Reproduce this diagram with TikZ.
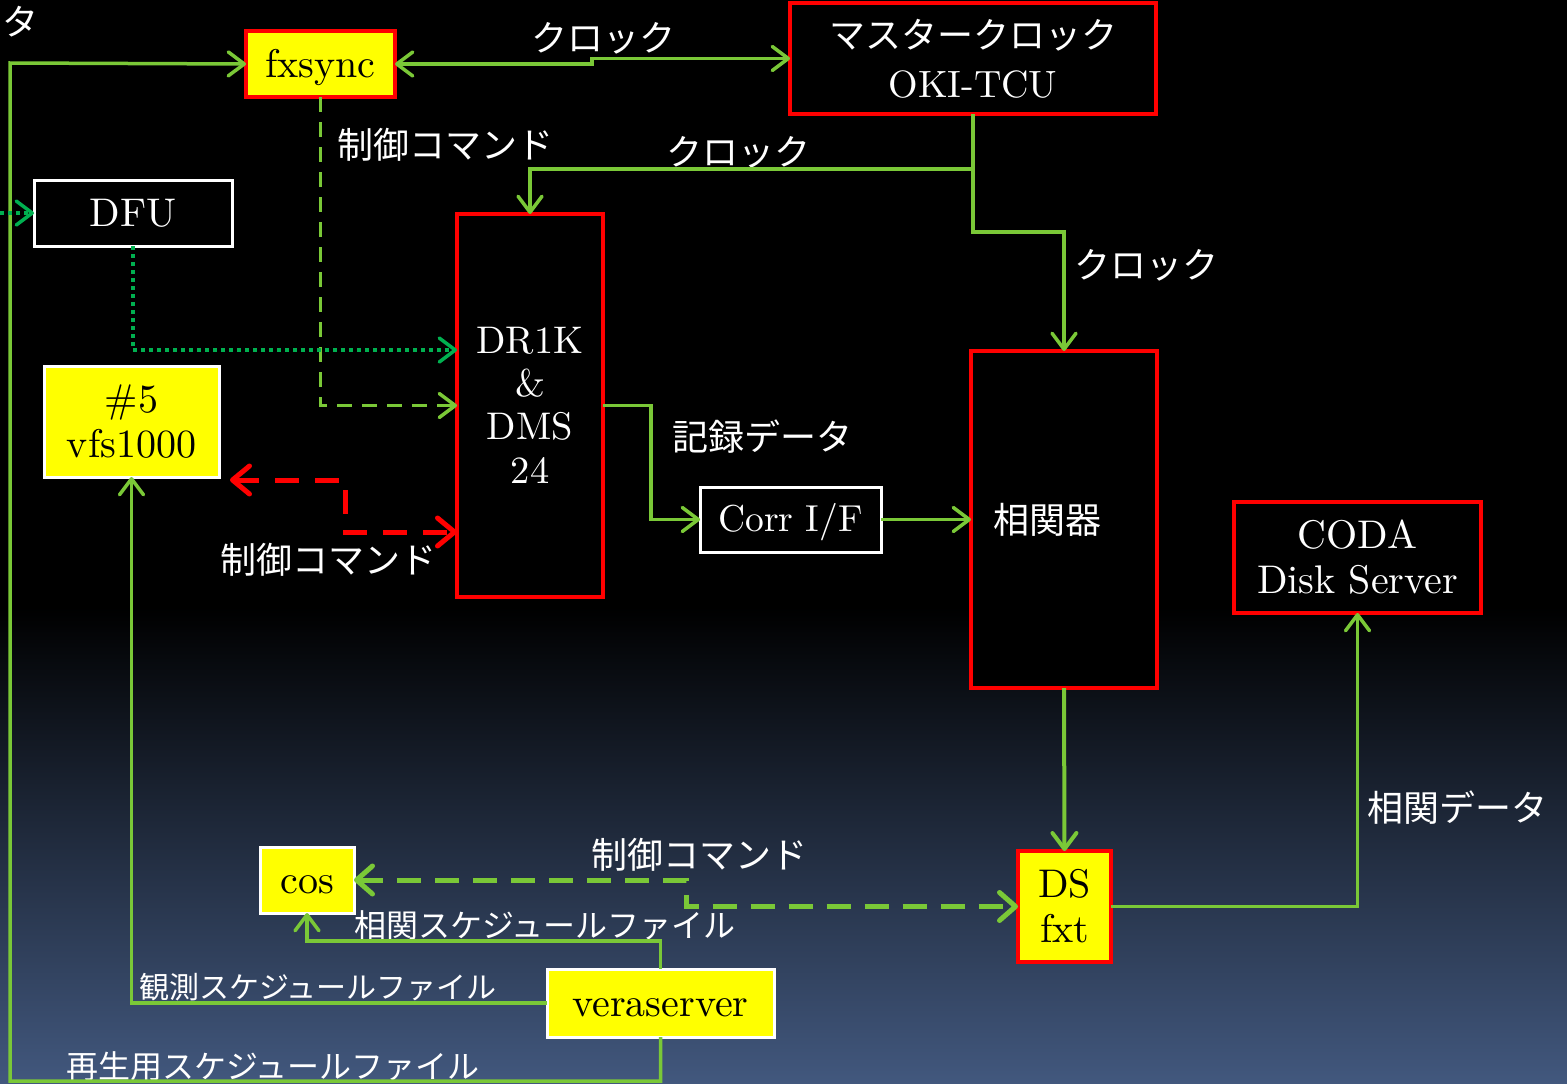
\documentclass[tikz,border=0pt]{standalone}
\usepackage{fontspec}
\newfontfamily\jp{Noto Sans CJK JP}
\usetikzlibrary{arrows.meta}
\definecolor{lg}{RGB}{122,200,55}
\definecolor{dg}{RGB}{0,176,80}
\definecolor{rd}{RGB}{255,0,0}
\definecolor{yl}{RGB}{255,255,0}
\definecolor{bgb}{RGB}{66,88,126}
\pgfdeclareverticalshading{bgshade}{100bp}{color(0bp)=(bgb); color(25bp)=(bgb); color(47bp)=(black); color(100bp)=(black)}
\newcommand{\lmt}[2][4]{\raisebox{-4pt}[\height][\depth]{\scalebox{#1}{\normalfont\fontsize{10}{11.25}\selectfont\begin{tabular}{@{}c@{}}#2\end{tabular}}}}
\begin{document}
\begin{tikzpicture}[x=1pt,y=-1pt,
  every node/.style={inner sep=0pt,outer sep=0pt},
  >={Straight Barb[length=16pt,width=24pt,round]},
  redbox/.style={draw=rd,line width=3.5pt,fill=black,text=white},
  whitebox/.style={draw=white,line width=3pt,fill=black,text=white},
  yred/.style={draw=rd,line width=4pt,fill=yl,text=black},
  ywhite/.style={draw=white,line width=3pt,fill=yl,text=black},
  serif/.style={align=center},
  lbl/.style={text=white,font=\jp\fontsize{36}{42}\selectfont},
  slbl/.style={text=white,font=\jp\fontsize{32}{38}\selectfont},
  conn/.style={draw=lg,line width=3.5pt,->},
  dconn/.style={conn,line width=3.5pt,dash pattern=on 15pt off 10pt},
  bdconn/.style={draw=lg,line width=5pt,dash pattern=on 24pt off 14pt,
     {Straight Barb[length=16pt,width=28pt,round]}-{Straight Barb[length=16pt,width=28pt,round]}},
  dotconn/.style={draw=dg,line width=3.5pt,dash pattern=on 3.5pt off 4.5pt,->},
  redconn/.style={draw=rd,line width=5pt,dash pattern=on 24pt off 16pt,
     {Straight Barb[length=17pt,width=28pt,round]}-{Straight Barb[length=17pt,width=28pt,round]}}
]
\begin{scope}[y=1pt]
\shade[shading=bgshade] (0,-1084) rectangle (1567,0);
\end{scope}
\useasboundingbox (0,0) rectangle (1567,1084);

% nodes
\node[yred,serif,minimum width=149pt,minimum height=66pt] (fx) at (320.5,64) {\lmt{fxsync}};
\node[redbox,font=\jp\fontsize{36}{45}\selectfont,minimum width=366pt,minimum height=111pt] (mc) at (973,58.5)
  {\raisebox{-4pt}[\height][\depth]{\begin{tabular}{@{}c@{}}マスタークロック\\[1pt]\lmt[3.8]{OKI-TCU}\end{tabular}}};
\node[whitebox,serif,minimum width=198pt,minimum height=66pt] (dfu) at (133,213) {\lmt{DFU}};
\node[ywhite,serif,minimum width=175pt,minimum height=111pt] (vfs) at (131.5,421.5) {\lmt{\#5\\vfs1000}};
\node[redbox,serif,minimum width=146pt,minimum height=383pt] (dr) at (530,405.5) {\lmt[3.85]{DR1K\\\&\\DMS\\24}};
\node[whitebox,serif,minimum width=181pt,minimum height=65pt] (corr) at (790.5,519.5) {\lmt[3.75]{Corr I/F}};
\node[redbox,font=\jp\fontsize{36}{42}\selectfont,minimum width=186pt,minimum height=337pt] (sk) at (1064,519.5) {相関器\hspace*{34pt}};
\node[redbox,serif,minimum width=247pt,minimum height=111pt] (coda) at (1357.5,557.5) {\lmt{CODA\\Disk Server}};
\node[yred,serif,minimum width=93pt,minimum height=111pt] (ds) at (1064.5,906.5) {\lmt{DS\\fxt}};
\node[ywhite,serif,minimum width=94pt,minimum height=66pt] (cos) at (307,880) {\lmt{cos}};
\node[ywhite,serif,minimum width=227pt,minimum height=68pt] (vera) at (660.5,1003) {\lmt{veraserver}};
\coordinate (dfuin) at (0,213);

% labels
\node[lbl] (l0) at (20,22) {タ};
\node[lbl] (l1) at (603,38) {クロック};
\node[lbl] (l2) at (445,145) {制御コマンド};
\node[lbl] (l3) at (738,152) {クロック};
\node[lbl] (l4) at (1146,265) {クロック};
\node[lbl] (l5) at (762,437) {記録データ};
\node[lbl] (l6) at (328,560) {制御コマンド};
\node[lbl] (l7) at (1457,808) {相関データ};
\node[lbl] (l8) at (699,855) {制御コマンド};
\node[slbl] (l9) at (545,925) {相関スケジュールファイル};
\node[slbl,font=\jp\fontsize{30}{36}\selectfont] (l10) at (318,987) {観測スケジュールファイル};
\node[slbl] (l11) at (273,1066) {再生用スケジュールファイル};

% connectors
\draw[conn] (vera.south) -- ++(0,44) -| (10,63) -- (fx.west);
\draw[conn,<->] (fx.east) -- (592,64) -- (592,58.5) -- (mc.west);
\draw[conn] (mc.south) -- ++(0,55) -| (dr.north);
\draw[conn] (mc.south) -- ++(0,118) -| (sk.north);
\draw[dconn] (fx.south) |- (dr.west);
\draw[dotconn] (dfu.south) |- (dr.west |- 0,350);
\draw[dotconn] (dfuin) -- (dfu.west);
\draw[redconn] ([xshift=11pt,yshift=-3pt]vfs.south east) -- (345,480) -- (345,532) -- (dr.west |- 0,532);
\draw[conn] (dr.east) -- (651,405.5) |- (corr.west);
\draw[conn] (corr.east) -- (corr.east -| sk.west);
\draw[conn,line width=4pt] (sk.south) -- (ds.north);
\draw[conn] (ds.east) -| (coda.south);
\draw[bdconn] (cos.east) -- (686,880) -- (686,906.5) -- (ds.west);
\draw[conn] (vera.north) -- ++(0,-28) -| (cos.south);
\draw[conn] (vera.west) -| (vfs.south);
\end{tikzpicture}
\end{document}
